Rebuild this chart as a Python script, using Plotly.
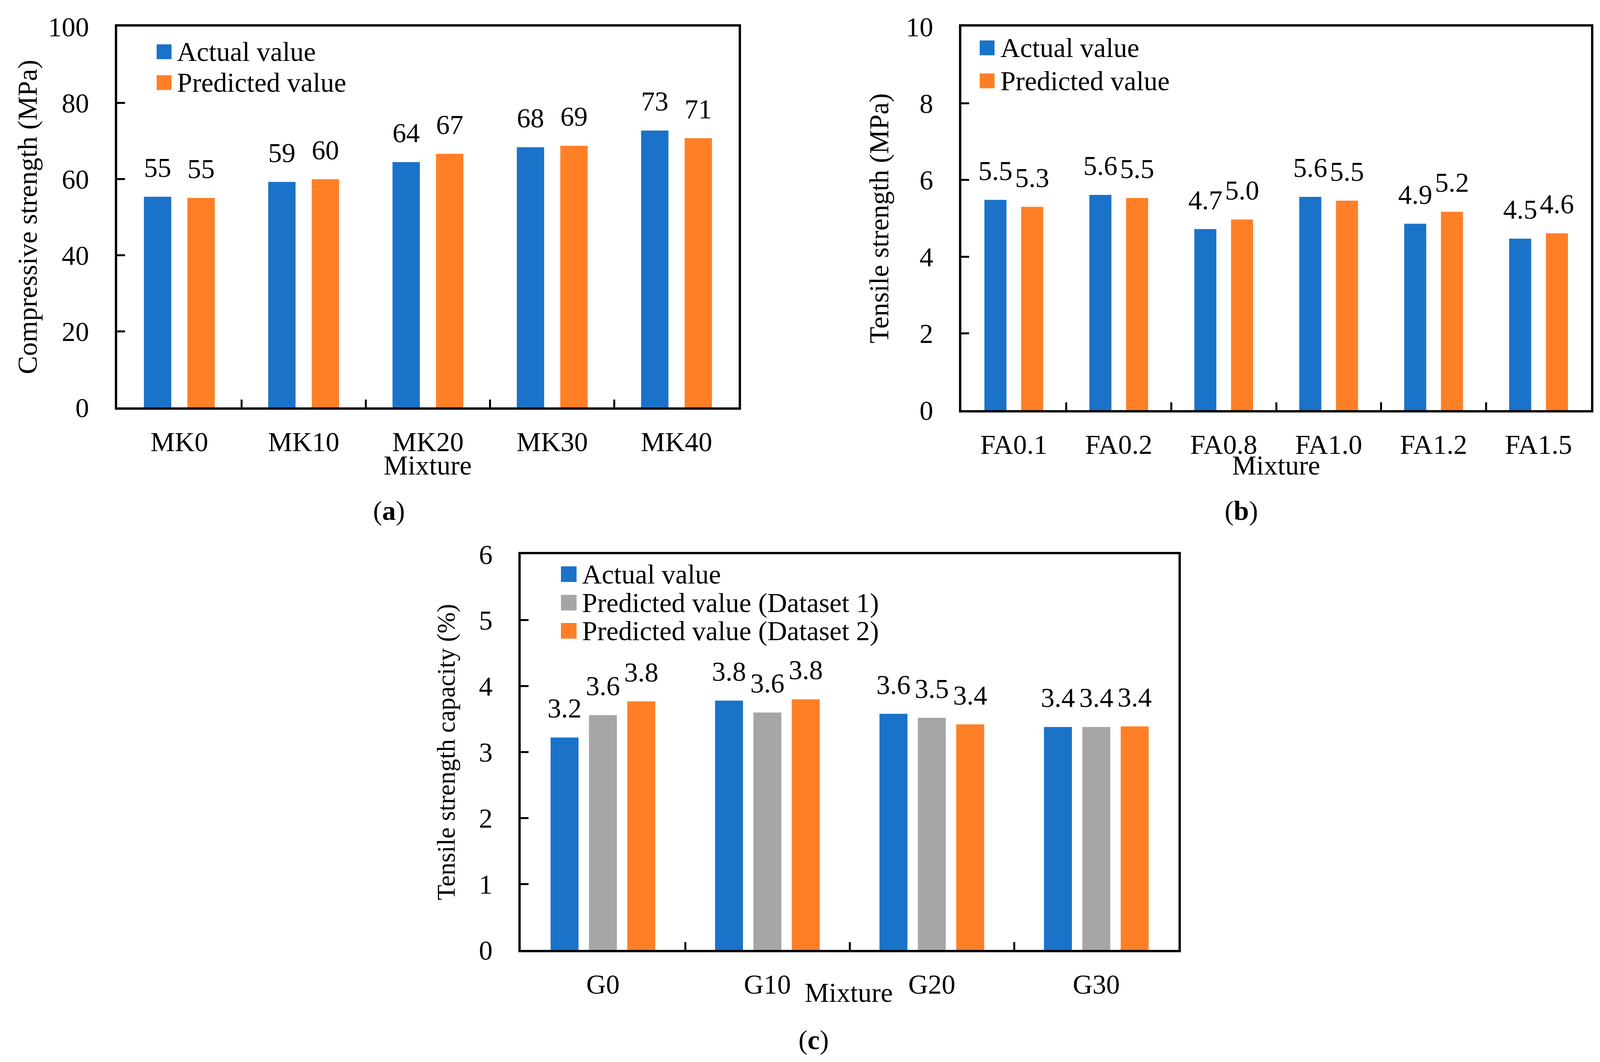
import plotly.graph_objects as go

# ---------------- data ----------------
mk_categories = ["MK0", "MK10", "MK20", "MK30", "MK40"]
mk_actual = [55.3, 59.2, 64.4, 68.3, 72.7]
mk_predicted = [55.0, 59.9, 66.6, 68.7, 70.7]

fa_categories = ["FA0.1", "FA0.2", "FA0.8", "FA1.0", "FA1.2", "FA1.5"]
fa_actual = [5.48, 5.61, 4.72, 5.56, 4.86, 4.47]
fa_predicted = [5.30, 5.53, 4.97, 5.46, 5.17, 4.61]

g_categories = ["G0", "G10", "G20", "G30"]
g_actual = [3.22, 3.78, 3.58, 3.38]
g_predicted_1 = [3.56, 3.60, 3.52, 3.38]
g_predicted_2 = [3.77, 3.80, 3.42, 3.39]

mk_ticks = [0, 20, 40, 60, 80, 100]
fa_ticks = [0, 2, 4, 6, 8, 10]
g_ticks = [0, 1, 2, 3, 4, 5, 6]

# ---------------- style ----------------
W, H = 4110, 2719
FONT = "Liberation Serif"
FS = 70
BLUE = "#1A73C8"
ORANGE = "#FF7F27"
GRAY = "#A6A6A6"
LW = 6

fig = go.Figure()


def add_panel(cats, series, colors, names, xa, ya, bar_width, fmt, tag):
    for k, (vals, col, name) in enumerate(zip(series, colors, names)):
        grp = f"{tag}{k}"
        fig.add_trace(go.Bar(
            x=cats, y=vals, name=name, marker=dict(color=col, line=dict(width=0)),
            width=bar_width, offsetgroup=grp, xaxis=xa, yaxis=ya,
            showlegend=False, hoverinfo="x+y+name"))
        fig.add_trace(go.Scatter(
            x=cats, y=vals, mode="markers+text", offsetgroup=grp,
            marker=dict(size=52, color="rgba(0,0,0,0)"),
            texttemplate=fmt, textposition="top center",
            textfont=dict(family=FONT, size=FS, color="black"),
            xaxis=xa, yaxis=ya, showlegend=False, hoverinfo="skip",
            cliponaxis=False))


add_panel(mk_categories, [mk_actual, mk_predicted], [BLUE, ORANGE],
          ["Actual value", "Predicted value"], "x", "y", 0.22, "%{y:.0f}", "a")
add_panel(fa_categories, [fa_actual, fa_predicted], [BLUE, ORANGE],
          ["Actual value", "Predicted value"], "x2", "y2", 0.21, "%{y:.1f}", "b")
add_panel(g_categories, [g_actual, g_predicted_1, g_predicted_2], [BLUE, GRAY, ORANGE],
          ["Actual value", "Predicted value (Dataset 1)", "Predicted value (Dataset 2)"],
          "x3", "y3", 0.17, "%{y:.1f}", "c")


def px(x):
    return x / W


def py(y):
    return 1 - y / H


xcommon = dict(type="category", showline=True, linewidth=LW, linecolor="black", mirror=True,
               ticks="inside", tickson="boundaries", ticklen=20, tickwidth=5, tickcolor="black",
               showgrid=False, zeroline=False, ticklabelstandoff=22, automargin=False,
               tickfont=dict(family=FONT, size=FS, color="black"))
ycommon = dict(showline=True, linewidth=LW, linecolor="black", mirror=True,
               ticks="inside", ticklen=20, tickwidth=5, tickcolor="black",
               showgrid=False, zeroline=False, ticklabelstandoff=52, automargin=False,
               tickfont=dict(family=FONT, size=FS, color="black"))

fig.update_layout(
    width=W, height=H, margin=dict(l=0, r=0, t=0, b=0, pad=0, autoexpand=False),
    paper_bgcolor="white", plot_bgcolor="white",
    barmode="group", bargap=0.3, scattermode="group", scattergap=0.3,
    font=dict(family=FONT, size=FS, color="black"),
    showlegend=False,
    xaxis=dict(xcommon, domain=[px(292), px(1883)], anchor="y"),
    yaxis=dict(ycommon, domain=[py(1035), py(60)], anchor="x", range=[0, 100], tickvals=mk_ticks,
               title=dict(text="Compressive strength (MPa)", standoff=8,
                          font=dict(family=FONT, size=FS, color="black"))),
    xaxis2=dict(xcommon, domain=[px(2453), px(4065)], anchor="y2"),
    yaxis2=dict(ycommon, domain=[py(1042), py(60)], anchor="x2", range=[0, 10], tickvals=fa_ticks,
                title=dict(text="Tensile strength (MPa)", standoff=24,
                           font=dict(family=FONT, size=FS, color="black"))),
    xaxis3=dict(xcommon, domain=[px(1325), px(3009)], anchor="y3"),
    yaxis3=dict(ycommon, domain=[py(2424), py(1411)], anchor="x3", range=[0, 6], tickvals=g_ticks,
                title=dict(text="Tensile strength capacity (%)", standoff=42,
                           font=dict(family=FONT, size=65, color="black"))),
)

annotations = []
shapes = []


def legend(items, sq_x0, sq_size, centers, text_x):
    for (name, col), cy in zip(items, centers):
        shapes.append(dict(type="rect", xref="paper", yref="paper",
                           x0=px(sq_x0), x1=px(sq_x0 + sq_size),
                           y0=py(cy + sq_size / 2), y1=py(cy - sq_size / 2),
                           fillcolor=col, line=dict(width=0)))
        annotations.append(dict(text=name, xref="paper", yref="paper", x=px(text_x), y=py(cy),
                                xanchor="left", yanchor="middle", showarrow=False,
                                font=dict(family=FONT, size=FS, color="black")))


legend([("Actual value", BLUE), ("Predicted value", ORANGE)], 393, 38, [124.5, 203.5], 443)
legend([("Actual value", BLUE), ("Predicted value", ORANGE)], 2500, 38, [114.5, 199], 2551)
legend([("Actual value", BLUE), ("Predicted value (Dataset 1)", GRAY),
        ("Predicted value (Dataset 2)", ORANGE)], 1428, 40, [1462, 1535, 1607], 1480)


def label(text, x, y):
    annotations.append(dict(text=text, xref="paper", yref="paper", x=px(x), y=py(y),
                            xanchor="center", yanchor="middle", showarrow=False,
                            font=dict(family=FONT, size=FS, color="black")))


label("Mixture", 1087, 1183)
label("Mixture", 3259, 1183)
label("Mixture", 2165, 2533)
label("(<b>a</b>)", 988, 1300)
label("(<b>b</b>)", 3170, 1300)
label("(<b>c</b>)", 2075, 2654)

fig.update_layout(annotations=annotations, shapes=shapes)

fig.write_html("out.html")
